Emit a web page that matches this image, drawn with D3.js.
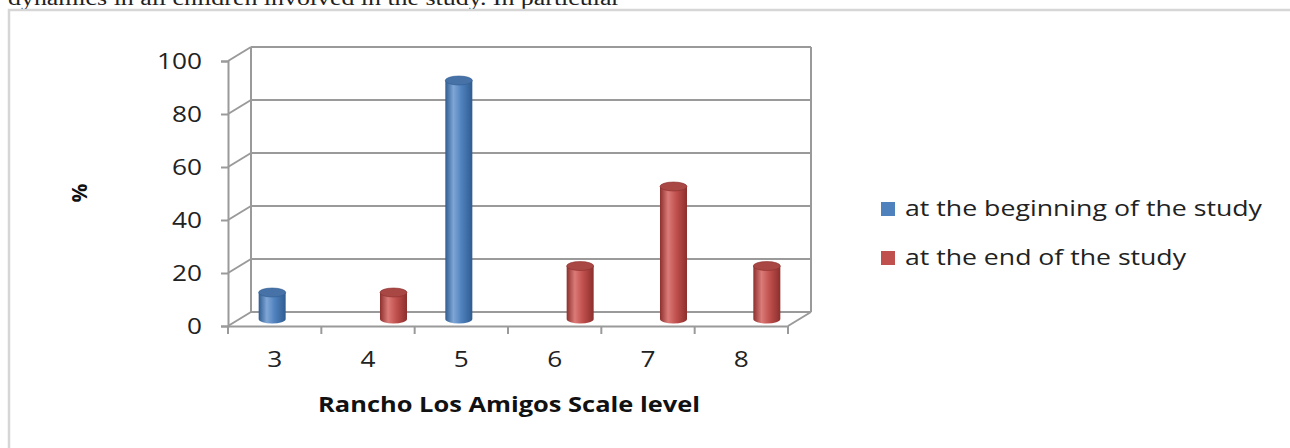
<!DOCTYPE html>
<meta charset="utf-8">
<head>
  <style>
    body { margin: 0; background: #fff; }
    svg { display: block; }
    .tick-text { font: 21px "Open Sans", sans-serif; fill: #222; }
    .legend-text { font: 22px "Open Sans", sans-serif; fill: #222; }
    .title-text { font: bold 21px "Open Sans", sans-serif; fill: #111; }
    .grid { stroke: #9a9a9a; stroke-width: 2; fill: none; }
  </style>
  <script src="https://cdn.jsdelivr.net/npm/d3@7/dist/d3.min.js"></script>
</head>
<body>
<div id="viz"></div>
<script>
// data
var levels = ["3", "4", "5", "6", "7", "8"];
var beginning = [10, 0, 90, 0, 0, 0];
var ending = [0, 10, 0, 20, 50, 20];
var seriesNames = ["at the beginning of the study", "at the end of the study"];
var yTicks = [0, 20, 40, 60, 80, 100];
var colors = ["#4f81bd", "#c0504d"];
var darks = ["#2f5c91", "#8c2f2d"];
var lights = ["#7fa6d6", "#db7b78"];

var W = 1290, H = 448;
var svg = d3.select("#viz").append("svg")
  .attr("width", W).attr("height", H);

// page frame and the cut-off line of paper text above it
svg.append("text")
  .attr("x", 8).attr("y", 5)
  .attr("textLength", 612).attr("lengthAdjust", "spacingAndGlyphs")
  .style("font", "20px 'Liberation Serif', serif")
  .style("fill", "#222")
  .text("dynamics in all children involved in the study. In particular");
svg.append("rect")
  .attr("x", 9).attr("y", 10).attr("width", 1290).attr("height", 460)
  .attr("fill", "none").attr("stroke", "#d6d6d6").attr("stroke-width", 2.5);

/* 3d projection: front plane + depth offset */
var dx = 23, dy = -14;
var x = d3.scaleBand().domain(levels).range([228, 788]);
var y = d3.scaleLinear().domain([0, 100]).range([326, 61]);

var defs = svg.append("defs");
colors.forEach(function(c, i) {
  var g = defs.append("linearGradient").attr("id", "cyl" + i)
    .attr("x1", "0%").attr("x2", "100%");
  g.append("stop").attr("offset", "0%").attr("stop-color", darks[i]);
  g.append("stop").attr("offset", "30%").attr("stop-color", lights[i]);
  g.append("stop").attr("offset", "60%").attr("stop-color", c);
  g.append("stop").attr("offset", "100%").attr("stop-color", darks[i]);
});

// back wall gridlines + left wall diagonals
var x0 = x.range()[0], x1 = x.range()[1];
yTicks.forEach(function(v) {
  svg.append("line").attr("class", "grid")
    .attr("x1", x0 + dx).attr("x2", x1 + dx)
    .attr("y1", y(v) + dy).attr("y2", y(v) + dy);
  svg.append("line").attr("class", "grid")
    .attr("x1", x0).attr("x2", x0 + dx)
    .attr("y1", y(v)).attr("y2", y(v) + dy);
});
// wall edges
svg.append("line").attr("class", "grid")
  .attr("x1", x0 + dx).attr("x2", x0 + dx)
  .attr("y1", y(0) + dy).attr("y2", y(100) + dy);
svg.append("line").attr("class", "grid")
  .attr("x1", x1 + dx).attr("x2", x1 + dx)
  .attr("y1", y(0) + dy).attr("y2", y(100) + dy);
// floor
svg.append("line").attr("class", "grid")
  .attr("x1", x1).attr("x2", x1 + dx)
  .attr("y1", y(0)).attr("y2", y(0) + dy);

// y axis (front)
var yAxis = svg.append("g").attr("transform", "translate(" + x0 + ",0)")
  .call(d3.axisLeft(y).tickValues(yTicks).tickSize(7).tickPadding(19));
yAxis.select(".domain").attr("stroke", "#9a9a9a").attr("stroke-width", 2);
yAxis.selectAll(".tick line").attr("stroke", "#9a9a9a").attr("stroke-width", 2);
yAxis.selectAll(".tick text").attr("class", "tick-text")
  .attr("textLength", function(d) { return String(d).length * 15; })
  .attr("lengthAdjust", "spacingAndGlyphs")
  .attr("dy", "0.36em");

// x axis (front)
var xAxis = svg.append("g").attr("transform", "translate(0," + y(0) + ")")
  .call(d3.axisBottom(x).tickSize(0).tickPadding(26));
xAxis.select(".domain").attr("stroke", "#9a9a9a").attr("stroke-width", 2);
xAxis.selectAll(".tick text").attr("class", "tick-text")
  .attr("textLength", 15).attr("lengthAdjust", "spacingAndGlyphs");
var bounds = levels.map(function(l) { return x(l); }).concat([x1]);
xAxis.selectAll(".xt").data(bounds).enter().append("line")
  .attr("x1", function(d) { return d; }).attr("x2", function(d) { return d; })
  .attr("y1", 0).attr("y2", 8)
  .attr("stroke", "#9a9a9a").attr("stroke-width", 2);

// cylinders
var bw = 27, ry = 4.5, off = 14;
var bars = [];
levels.forEach(function(l, i) {
  [beginning[i], ending[i]].forEach(function(v, s) {
    if (v > 0) bars.push({ level: l, value: v, s: s });
  });
});
function cx(d) { return x(d.level) + x.bandwidth() / 2 + (d.s === 0 ? -off : off) + dx / 2; }
function yb(d) { return y(0) + dy / 2; }
function yt(d) { return y(d.value) + dy / 2; }

var cyl = svg.selectAll(".cyl").data(bars).enter().append("g").attr("class", "cyl");
cyl.append("path")
  .attr("d", function(d) {
    var l = cx(d) - bw / 2, r = cx(d) + bw / 2;
    return "M" + l + "," + yt(d) + "L" + l + "," + yb(d) +
      "A" + bw / 2 + "," + ry + " 0 0 0 " + r + "," + yb(d) +
      "L" + r + "," + yt(d) + "Z";
  })
  .attr("fill", function(d) { return "url(#cyl" + d.s + ")"; });
cyl.append("ellipse")
  .attr("cx", cx).attr("cy", yt)
  .attr("rx", bw / 2).attr("ry", ry)
  .attr("fill", function(d) { return d3.color(colors[d.s]).darker(0.35); })
  .attr("stroke", function(d) { return darks[d.s]; }).attr("stroke-width", 0.6);

// axis titles
svg.append("text").attr("class", "title-text")
  .attr("x", 509).attr("y", 412)
  .attr("text-anchor", "middle")
  .attr("textLength", 382).attr("lengthAdjust", "spacingAndGlyphs")
  .text("Rancho Los Amigos Scale level");
svg.append("text").attr("class", "title-text")
  .attr("transform", "translate(87,193) rotate(-90)")
  .attr("text-anchor", "middle")
  .text("%");

// legend
var legend = svg.selectAll(".legend").data(seriesNames).enter().append("g")
  .attr("transform", function(d, i) { return "translate(881," + (202 + i * 49) + ")"; });
legend.append("rect").attr("width", 14).attr("height", 14)
  .attr("fill", function(d, i) { return colors[i]; });
legend.append("text").attr("class", "legend-text")
  .attr("x", 24).attr("y", 14)
  .attr("textLength", function(d, i) { return i === 0 ? 357 : 281; })
  .attr("lengthAdjust", "spacingAndGlyphs")
  .text(function(d) { return d; });
</script>
</body>
